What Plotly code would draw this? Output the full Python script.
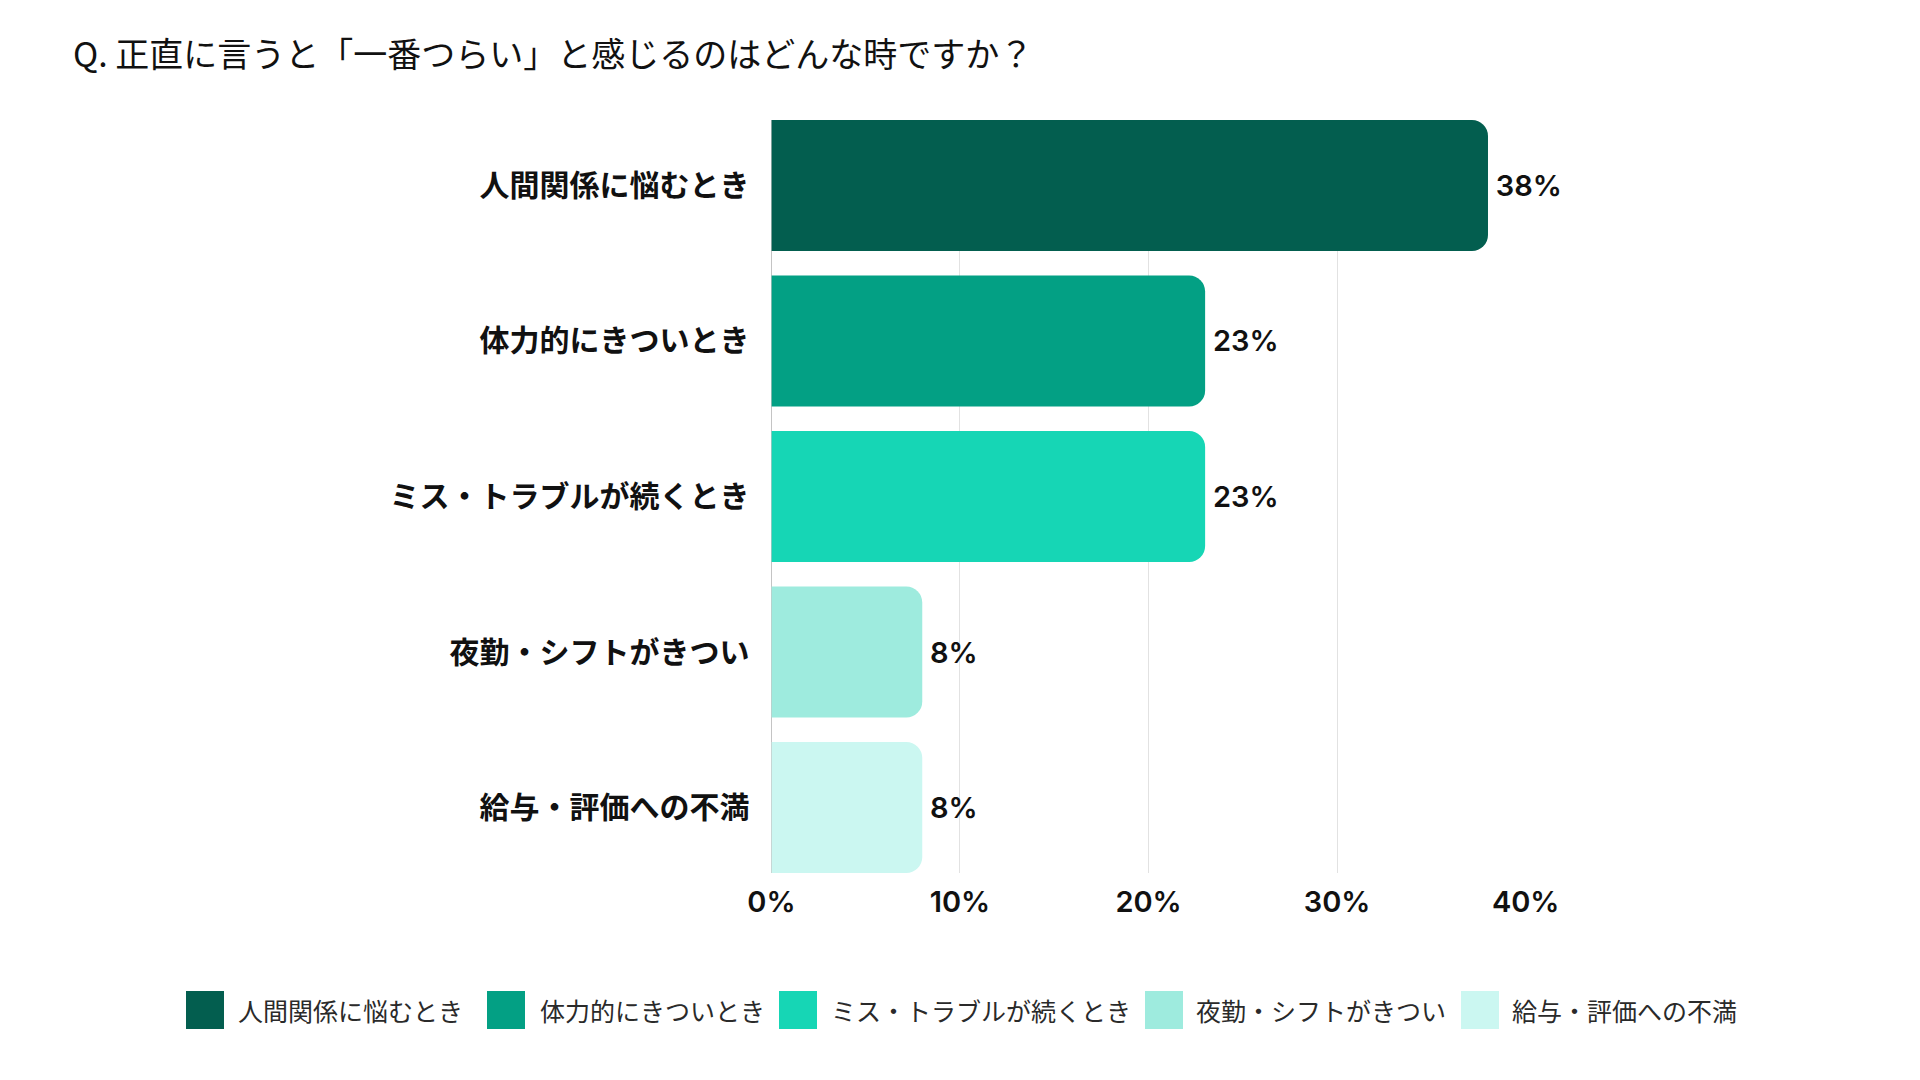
import plotly.graph_objects as go

categories = ["人間関係に悩むとき", "体力的にきついとき", "ミス・トラブルが続くとき", "夜勤・シフトがきつい", "給与・評価への不満"]
values = [38, 23, 23, 8, 8]
colors = ["#035e4f", "#03a084", "#16d6b5", "#9eebde", "#cbf7f1"]
tick_vals = [0, 10, 20, 30, 40]
tick_text = ["0%", "10%", "20%", "30%", "40%"]
title_text = "Q. 正直に言うと「一番つらい」と感じるのはどんな時ですか？"

FONT = "Noto Sans CJK JP"
NUMFONT = "Inter, Noto Sans CJK JP"

W, H = 1920, 1080
T, B = 120, 207
PLOT_L, PLOT_R = 771.4, 1525.7
BAR_FRAC = 0.842

fig = go.Figure()
for cat, val, col in zip(categories, values, colors):
    fig.add_trace(go.Bar(
        x=[val], y=[cat], orientation="h", name=cat,
        marker=dict(color=col, cornerradius=16, line=dict(width=0)),
        text=[f"\u2009{val}%"], textposition="outside",
        textfont=dict(family=NUMFONT, size=29, color="#111111", weight=600),
        cliponaxis=False, hoverinfo="skip", showlegend=False,
    ))

# legend (drawn as layout decorations)
def py2paper(py):
    return (H - B - py) / (H - T - B)

legend_swatch_x = [186, 487, 779, 1145, 1461]
legend_text_x = [236, 538, 829, 1194, 1510]
legend_y = 1010
sw = 38
shapes = []
annotations = []
for cat, col, sx, tx in zip(categories, colors, legend_swatch_x, legend_text_x):
    shapes.append(dict(type="rect", xref="paper", yref="paper",
                       x0=sx / W, x1=(sx + sw) / W,
                       y0=py2paper(legend_y + sw / 2), y1=py2paper(legend_y - sw / 2),
                       fillcolor=col, line=dict(width=0), layer="above"))
    annotations.append(dict(text=cat, xref="paper", yref="paper", x=tx / W, y=py2paper(legend_y),
                            xanchor="left", yanchor="middle", showarrow=False,
                            font=dict(family=FONT, size=25, color="#2a2a2a")))

fig.update_layout(
    width=W, height=H,
    paper_bgcolor="white", plot_bgcolor="white",
    barmode="overlay", bargap=1 - BAR_FRAC,
    margin=dict(l=0, r=0, t=T, b=B, autoexpand=False),
    font=dict(family=FONT, color="#111111"),
    title=dict(text=title_text, x=73 / W, xanchor="left", xref="container",
               y=1 - 55 / H, yanchor="middle", yref="container",
               font=dict(family=FONT, size=34, color="#111111")),
    showlegend=False,
    shapes=shapes, annotations=annotations,
)
fig.update_xaxes(domain=[PLOT_L / W, PLOT_R / W], range=[0, 40],
                 tickvals=tick_vals, ticktext=tick_text,
                 showgrid=True, gridcolor="#e2e2e2", gridwidth=1,
                 zeroline=True, zerolinecolor="#c4c4c4", zerolinewidth=1,
                 tickfont=dict(family=NUMFONT, size=29, color="#111111", weight=600),
                 ticklabelstandoff=9,
                 showline=False, fixedrange=True, automargin=False)
half = BAR_FRAC / 2
fig.update_yaxes(categoryorder="array", categoryarray=categories,
                 range=[len(categories) - 1 + half, -half],
                 tickvals=categories, ticktext=[f"<b>{c}</b>" for c in categories],
                 tickfont=dict(family=FONT, size=30, color="#111111"),
                 ticklabelstandoff=21, showgrid=False, fixedrange=True, automargin=False)

fig.write_html("out.html")
